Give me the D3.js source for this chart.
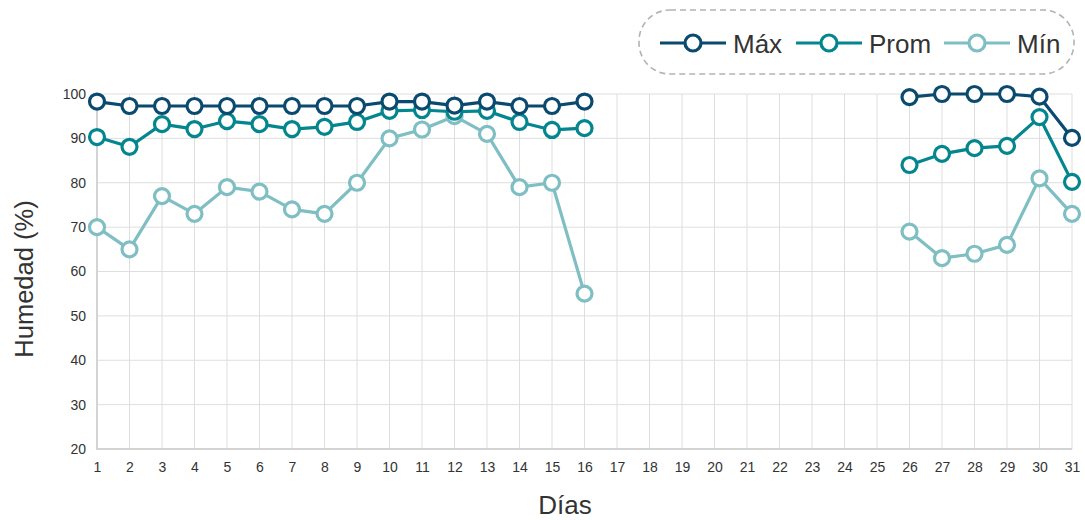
<!DOCTYPE html>
<html><head><meta charset="utf-8">
<script src="https://cdn.jsdelivr.net/npm/d3@7/dist/d3.min.js"></script>
<style>body{margin:0;background:#fff;}svg{display:block;font-family:"Liberation Sans",Arial,sans-serif;}</style>
</head><body><svg id="c" width="1085" height="520"></svg>
<script>
const days = d3.range(1, 32);
const maxVals = [98.3,97.3,97.3,97.3,97.3,97.3,97.3,97.3,97.3,98.3,98.3,97.4,98.3,97.3,97.3,98.3,null,null,null,null,null,null,null,null,null,99.3,100,100,100,99.4,90.1];
const promVals = [90.3,88.1,93.2,92.1,93.9,93.2,92.1,92.6,93.7,96.2,96.4,96,96.2,93.7,91.9,92.3,null,null,null,null,null,null,null,null,null,84,86.5,87.8,88.3,94.8,80.2];
const minVals = [70,65,77,73,79,78,74,73,80,90,92,95,91,79,80,55,null,null,null,null,null,null,null,null,null,69,63,64,66,81,73];
const seriesNames = ["Máx","Prom","Mín"];
const seriesColors = ["#0b4a6f","#04868e","#7fbec3"];
const yTicks = [20,30,40,50,60,70,80,90,100];

const svg = d3.select("#c");
const x = d3.scaleLinear().domain([1,31]).range([97,1072]);
const y = d3.scaleLinear().domain([20,100]).range([449,94]);

// grid
const g = svg.append("g");
g.selectAll(".hg").data(yTicks).join("line")
  .attr("x1",97).attr("x2",1072).attr("y1",d=>y(d)).attr("y2",d=>y(d))
  .attr("stroke","#dedede").attr("stroke-width",1);
g.selectAll(".vg").data(days).join("line")
  .attr("x1",d=>x(d)).attr("x2",d=>x(d)).attr("y1",94).attr("y2",449)
  .attr("stroke","#dedede").attr("stroke-width",1);
// axis lines
svg.append("line").attr("x1",97).attr("x2",97).attr("y1",94).attr("y2",449).attr("stroke","#d4d4d4").attr("stroke-width",2);
svg.append("line").attr("x1",96).attr("x2",1072).attr("y1",449).attr("y2",449).attr("stroke","#d4d4d4").attr("stroke-width",2);

// axes
const ya = svg.append("g").attr("transform","translate(97,0)")
  .call(d3.axisLeft(y).tickValues(yTicks).tickSize(0).tickPadding(11));
ya.select(".domain").remove();
ya.selectAll("text").attr("font-size",14).attr("fill","#333").attr("font-family","Liberation Sans, Arial, sans-serif");
const xa = svg.append("g").attr("transform","translate(0,449)")
  .call(d3.axisBottom(x).tickValues(days).tickFormat(d3.format("d")).tickSize(0).tickPadding(13));
xa.select(".domain").remove();
xa.selectAll("text").attr("font-size",14).attr("fill","#333").attr("font-family","Liberation Sans, Arial, sans-serif");

// titles
svg.append("text").attr("x",565).attr("y",514).attr("text-anchor","middle")
  .attr("font-size",26).attr("fill","#333").text("Días");
svg.append("text").attr("transform","translate(33,279) rotate(-90)").attr("text-anchor","middle")
  .attr("font-size",25.5).attr("fill","#333").text("Humedad (%)");

// series
const allSeries = [maxVals, promVals, minVals];
const line = d3.line().defined(d=>d.v!=null).x(d=>x(d.d)).y(d=>y(d.v));
[2,1,0].forEach(i=>{
  const data = days.map((d,k)=>({d, v: allSeries[i][k]}));
  const sg = svg.append("g");
  sg.append("path").datum(data).attr("d",line).attr("fill","none")
    .attr("stroke",seriesColors[i]).attr("stroke-width",3.2).attr("stroke-linejoin","round");
  sg.selectAll("circle").data(data.filter(d=>d.v!=null)).join("circle")
    .attr("cx",d=>x(d.d)).attr("cy",d=>y(d.v)).attr("r",7.5)
    .attr("fill","#fff").attr("stroke",seriesColors[i]).attr("stroke-width",3.2);
});

// legend
svg.append("rect").attr("x",639).attr("y",10).attr("width",435).attr("height",64)
  .attr("rx",31).attr("ry",31).attr("fill","#fff").attr("stroke","#b3b3b3")
  .attr("stroke-width",1.6).attr("stroke-dasharray","6,4");
const lx = [660, 796, 944];
seriesNames.forEach((n,i)=>{
  const lg = svg.append("g").attr("transform",`translate(${lx[i]},43)`);
  lg.append("line").attr("x1",0).attr("x2",66).attr("stroke",seriesColors[i]).attr("stroke-width",3.2);
  lg.append("circle").attr("cx",33).attr("r",8).attr("fill","#fff").attr("stroke",seriesColors[i]).attr("stroke-width",3.2);
  lg.append("text").attr("x",73).attr("y",9.5).attr("font-size",26).attr("fill","#333").text(n);
});
</script></body></html>
